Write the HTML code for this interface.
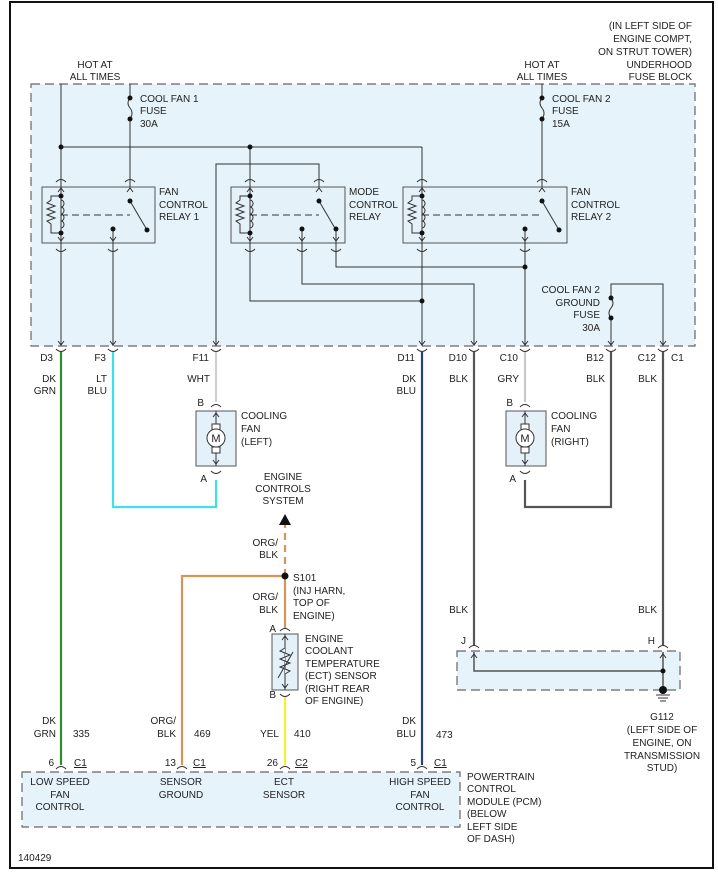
<!DOCTYPE html>
<html><head><meta charset="utf-8"><style>
html,body{margin:0;padding:0;background:#fff;}
svg{display:block;}
text{font-family:"Liberation Sans",sans-serif;font-size:10px;fill:#222;}
</style></head><body>
<svg width="718" height="877" viewBox="0 0 718 877" xmlns="http://www.w3.org/2000/svg">
<defs>
<g id="coil">
 <line x1="0" y1="180" x2="0" y2="243" stroke="#333" stroke-width="1"/>
 <path d="M0,200 a3,3.5 0 0 1 0,7 a3,3.5 0 0 1 0,7 a3,3.5 0 0 1 0,7 a3,3.5 0 0 1 0,7" fill="none" stroke="#333"/>
 <path d="M0,196 H-10 V200 l-4,3 l8,3 l-8,3 l8,3 l-8,3 l8,3 l-8,3 l4,3 V233 H0" fill="none" stroke="#333"/>
 <circle cx="0" cy="196" r="2.5" fill="#111"/><circle cx="0" cy="233" r="2.5" fill="#111"/>
 <path d="M-3,192 L0,188 L3,192 M-3,237 L0,241 L3,237" fill="none" stroke="#333"/>
 <path d="M-5,182 q5,-5 10,0 M-5,249 q5,5 10,0" fill="none" stroke="#333"/>
</g>
<g id="arcT"><path d="M-5,0 q5,-5 10,0" fill="none" stroke="#333"/></g>
<g id="arcB"><path d="M-5,0 q5,5 10,0" fill="none" stroke="#333"/></g>
<g id="dn"><path d="M-3,-4 L0,0 L3,-4" fill="none" stroke="#333"/></g>
<g id="up"><path d="M-3,4 L0,0 L3,4" fill="none" stroke="#333"/></g>
</defs>

<rect x="10" y="2" width="703" height="866" fill="none" stroke="#111" stroke-width="2"/>

<rect x="31" y="84" width="664" height="262" fill="#e6f3fb" stroke="#666" stroke-width="1.2" stroke-dasharray="9,5"/>
<rect x="42" y="187" width="113" height="56" fill="#e4f1f9" stroke="#555"/>
<rect x="231" y="187" width="114" height="56" fill="#e4f1f9" stroke="#555"/>
<rect x="403" y="187" width="164" height="56" fill="#e4f1f9" stroke="#555"/>

<g stroke="#333" stroke-width="1" fill="none">
 <line x1="61" y1="84" x2="61" y2="180"/>
 <line x1="61" y1="147" x2="422" y2="147"/>
 <line x1="422" y1="147" x2="422" y2="180"/>
 <line x1="250" y1="147" x2="250" y2="180"/>
 <line x1="130" y1="84" x2="130" y2="98"/>
 <path d="M130,98 q-4,5 0,10 q4,5 0,11"/>
 <line x1="130" y1="119" x2="130" y2="187"/>
 <line x1="542" y1="84" x2="542" y2="98"/>
 <path d="M542,98 q-4,5 0,10 q4,5 0,11"/>
 <line x1="542" y1="119" x2="542" y2="187"/>
 <polyline points="216,346 216,164 319,164 319,187"/>
 <line x1="61" y1="215" x2="130" y2="215" stroke-dasharray="7,4"/>
 <line x1="130" y1="201" x2="147" y2="230"/>
 <line x1="113" y1="229" x2="113" y2="346"/>
 <line x1="250" y1="215" x2="319" y2="215" stroke-dasharray="7,4"/>
 <line x1="319" y1="201" x2="336" y2="230"/>
 <polyline points="302,229 302,284 474,284 474,346"/>
 <polyline points="336,229 336,267 525,267"/>
 <polyline points="250,243 250,301 422,301"/>
 <line x1="422" y1="215" x2="542" y2="215" stroke-dasharray="7,4"/>
 <line x1="542" y1="201" x2="559" y2="230"/>
 <line x1="525" y1="229" x2="525" y2="346"/>
 <line x1="422" y1="243" x2="422" y2="346"/>
 <line x1="61" y1="243" x2="61" y2="346"/>
 <polyline points="611,346 611,318"/>
 <path d="M611,298 q4,5 0,10 q-4,5 0,10"/>
 <polyline points="611,298 611,284 663,284 663,346"/>
</g>
<use href="#coil" x="61"/><use href="#coil" x="250"/><use href="#coil" x="422"/>
<g fill="#111">
 <circle cx="61" cy="147" r="2.5"/><circle cx="250" cy="147" r="2.5"/>
 <circle cx="130" cy="98" r="2.5"/><circle cx="130" cy="119" r="2.5"/>
 <circle cx="542" cy="98" r="2.5"/><circle cx="542" cy="119" r="2.5"/>
 <circle cx="611" cy="298" r="2.5"/><circle cx="611" cy="318" r="2.5"/>
 <circle cx="130" cy="201" r="2.5"/><circle cx="147" cy="230" r="2.5"/><circle cx="113" cy="229" r="2.5"/>
 <circle cx="319" cy="201" r="2.5"/><circle cx="336" cy="229" r="2.5"/><circle cx="302" cy="229" r="2.5"/>
 <circle cx="542" cy="201" r="2.5"/><circle cx="559" cy="230" r="2.5"/><circle cx="525" cy="229" r="2.5"/>
 <circle cx="422" cy="301" r="2.5"/><circle cx="525" cy="267" r="2.5"/>
</g>
<use href="#arcT" x="130" y="182"/><use href="#up" x="130" y="188"/>
<use href="#arcT" x="319" y="182"/><use href="#up" x="319" y="188"/>
<use href="#arcT" x="542" y="182"/><use href="#up" x="542" y="188"/>
<use href="#dn" x="113" y="241"/><use href="#arcB" x="113" y="249"/>
<use href="#dn" x="302" y="241"/><use href="#arcB" x="302" y="249"/>
<use href="#dn" x="336" y="241"/><use href="#arcB" x="336" y="249"/>
<use href="#dn" x="525" y="241"/><use href="#arcB" x="525" y="249"/>
<g>
 <use href="#dn" x="61" y="345"/><use href="#dn" x="113" y="345"/><use href="#dn" x="216" y="345"/>
 <use href="#dn" x="422" y="345"/><use href="#dn" x="474" y="345"/><use href="#dn" x="525" y="345"/>
 <use href="#dn" x="611" y="345"/><use href="#dn" x="663" y="345"/>
 <use href="#arcB" x="61" y="349"/><use href="#arcB" x="113" y="349"/><use href="#arcB" x="216" y="349"/>
 <use href="#arcB" x="422" y="349"/><use href="#arcB" x="474" y="349"/><use href="#arcB" x="525" y="349"/>
 <use href="#arcB" x="611" y="349"/><use href="#arcB" x="663" y="349"/>
</g>

<g fill="none" stroke-width="2.2">
 <line x1="61" y1="352" x2="61" y2="765" stroke="#2e8b2e"/>
 <polyline points="113,352 113,507 216,507 216,480" stroke="#3ee0ea"/>
 <line x1="216" y1="352" x2="216" y2="402" stroke="#cfcfcf"/>
 <line x1="422" y1="352" x2="422" y2="765" stroke="#27407f"/>
 <line x1="474" y1="352" x2="474" y2="645" stroke="#555"/>
 <line x1="525" y1="352" x2="525" y2="402" stroke="#c8c8c8"/>
 <polyline points="525,480 525,507 611,507 611,352" stroke="#555"/>
 <line x1="663" y1="352" x2="663" y2="645" stroke="#555"/>
 <polyline points="182,765 182,576 285,576 285,628" stroke="#d49555"/>
 <line x1="285" y1="576" x2="285" y2="525" stroke="#d49555" stroke-dasharray="7,5"/>
 <line x1="285" y1="697" x2="285" y2="765" stroke="#f2ee30"/>
</g>
<circle cx="285" cy="576" r="3.5" fill="#111"/>
<path d="M279,525 L285,514 L291,525 Z" fill="#111"/>

<g>
 <rect x="196" y="411" width="40" height="55" fill="#e4f1f9" stroke="#555"/>
 <line x1="216" y1="411" x2="216" y2="466" stroke="#333"/>
 <rect x="212" y="424" width="8" height="6" fill="#fff" stroke="#333"/>
 <rect x="212" y="447" width="8" height="6" fill="#fff" stroke="#333"/>
 <circle cx="216" cy="438" r="9" fill="#fff" stroke="#333"/>
 <text x="216" y="442" text-anchor="middle" style="font-size:11px">M</text>
 <use href="#up" x="216" y="413"/><use href="#dn" x="216" y="464"/>
 <use href="#arcT" x="216" y="407"/><use href="#arcB" x="216" y="471"/>
 <rect x="506" y="411" width="40" height="55" fill="#e4f1f9" stroke="#555"/>
 <line x1="525" y1="411" x2="525" y2="466" stroke="#333"/>
 <rect x="521" y="424" width="8" height="6" fill="#fff" stroke="#333"/>
 <rect x="521" y="447" width="8" height="6" fill="#fff" stroke="#333"/>
 <circle cx="525" cy="438" r="9" fill="#fff" stroke="#333"/>
 <text x="525" y="442" text-anchor="middle" style="font-size:11px">M</text>
 <use href="#up" x="525" y="413"/><use href="#dn" x="525" y="464"/>
 <use href="#arcT" x="525" y="407"/><use href="#arcB" x="525" y="471"/>
</g>
<rect x="272" y="634" width="26" height="56" fill="#e4f1f9" stroke="#555"/>
<line x1="285" y1="634" x2="285" y2="690" stroke="#333"/>
<path d="M285,648 l-5,3 l10,4 l-10,4 l10,4 l-10,4 l10,4 l-5,3" fill="#e4f1f9" stroke="#333"/>
<line x1="278" y1="678" x2="293" y2="652" stroke="#333"/>
<use href="#up" x="285" y="636"/><use href="#dn" x="285" y="688"/>
<use href="#arcT" x="285" y="631"/><use href="#arcB" x="285" y="694"/>

<rect x="457" y="651" width="223" height="39" fill="#e6f3fb" stroke="#666" stroke-width="1.2" stroke-dasharray="9,5"/>
<g stroke="#555" stroke-width="1.5" fill="none">
 <polyline points="474,652 474,671 663,671"/>
 <line x1="663" y1="652" x2="663" y2="692"/>
</g>
<use href="#arcT" x="474" y="648"/><use href="#up" x="474" y="654"/>
<use href="#arcT" x="663" y="648"/><use href="#up" x="663" y="654"/>
<circle cx="663" cy="671" r="2.5" fill="#111"/>
<circle cx="663" cy="690" r="4" fill="#111"/>
<g stroke="#333"><line x1="656" y1="695" x2="670" y2="695"/><line x1="658" y1="698" x2="668" y2="698"/><line x1="660" y1="701" x2="666" y2="701"/></g>

<rect x="22" y="772" width="438" height="55" fill="#e6f3fb" stroke="#666" stroke-width="1.2" stroke-dasharray="9,5"/>
<use href="#arcT" x="61" y="769"/><use href="#arcT" x="182" y="769"/><use href="#arcT" x="285" y="769"/><use href="#arcT" x="422" y="769"/>

<g>
<text x="95" y="68" text-anchor="middle">HOT AT</text>
<text x="95" y="80" text-anchor="middle">ALL TIMES</text>
<text x="542" y="68" text-anchor="middle">HOT AT</text>
<text x="542" y="80" text-anchor="middle">ALL TIMES</text>
<text x="692" y="29" text-anchor="end">(IN LEFT SIDE OF</text>
<text x="692" y="42" text-anchor="end">ENGINE COMPT,</text>
<text x="692" y="55" text-anchor="end">ON STRUT TOWER)</text>
<text x="692" y="68" text-anchor="end">UNDERHOOD</text>
<text x="692" y="80" text-anchor="end">FUSE BLOCK</text>
<text x="140" y="102">COOL FAN 1</text><text x="140" y="114">FUSE</text><text x="140" y="127">30A</text>
<text x="552" y="102">COOL FAN 2</text><text x="552" y="114">FUSE</text><text x="552" y="127">15A</text>
<text x="159" y="195">FAN</text><text x="159" y="208">CONTROL</text><text x="159" y="220">RELAY 1</text>
<text x="349" y="195">MODE</text><text x="349" y="208">CONTROL</text><text x="349" y="220">RELAY</text>
<text x="571" y="195">FAN</text><text x="571" y="208">CONTROL</text><text x="571" y="220">RELAY 2</text>
<text x="600" y="293" text-anchor="end">COOL FAN 2</text>
<text x="600" y="306" text-anchor="end">GROUND</text>
<text x="600" y="318" text-anchor="end">FUSE</text>
<text x="600" y="331" text-anchor="end">30A</text>

<text x="53" y="361" text-anchor="end">D3</text>
<text x="106" y="361" text-anchor="end">F3</text>
<text x="209" y="361" text-anchor="end">F11</text>
<text x="415" y="361" text-anchor="end">D11</text>
<text x="467" y="361" text-anchor="end">D10</text>
<text x="518" y="361" text-anchor="end">C10</text>
<text x="604" y="361" text-anchor="end">B12</text>
<text x="656" y="361" text-anchor="end">C12</text>
<text x="671" y="361">C1</text>

<text x="56" y="382" text-anchor="end">DK</text><text x="56" y="394" text-anchor="end">GRN</text>
<text x="107" y="382" text-anchor="end">LT</text><text x="107" y="394" text-anchor="end">BLU</text>
<text x="210" y="382" text-anchor="end">WHT</text>
<text x="416" y="382" text-anchor="end">DK</text><text x="416" y="394" text-anchor="end">BLU</text>
<text x="468" y="382" text-anchor="end">BLK</text>
<text x="519" y="382" text-anchor="end">GRY</text>
<text x="605" y="382" text-anchor="end">BLK</text>
<text x="657" y="382" text-anchor="end">BLK</text>

<text x="204" y="406" text-anchor="end">B</text>
<text x="207" y="482" text-anchor="end">A</text>
<text x="241" y="419">COOLING</text><text x="241" y="432">FAN</text><text x="241" y="445">(LEFT)</text>
<text x="513" y="406" text-anchor="end">B</text>
<text x="516" y="482" text-anchor="end">A</text>
<text x="551" y="419">COOLING</text><text x="551" y="432">FAN</text><text x="551" y="445">(RIGHT)</text>

<text x="283" y="480" text-anchor="middle">ENGINE</text>
<text x="283" y="492" text-anchor="middle">CONTROLS</text>
<text x="283" y="504" text-anchor="middle">SYSTEM</text>
<text x="278" y="546" text-anchor="end">ORG/</text><text x="278" y="558" text-anchor="end">BLK</text>
<text x="293" y="581">S101</text>
<text x="293" y="594">(INJ HARN,</text>
<text x="293" y="606">TOP OF</text>
<text x="293" y="619">ENGINE)</text>
<text x="278" y="600" text-anchor="end">ORG/</text><text x="278" y="613" text-anchor="end">BLK</text>
<text x="276" y="632" text-anchor="end">A</text>
<text x="276" y="698" text-anchor="end">B</text>
<text x="305" y="642">ENGINE</text>
<text x="305" y="654">COOLANT</text>
<text x="305" y="667">TEMPERATURE</text>
<text x="305" y="679">(ECT) SENSOR</text>
<text x="305" y="692">(RIGHT REAR</text>
<text x="305" y="704">OF ENGINE)</text>

<text x="468" y="613" text-anchor="end">BLK</text>
<text x="657" y="613" text-anchor="end">BLK</text>
<text x="466" y="644" text-anchor="end">J</text>
<text x="655" y="644" text-anchor="end">H</text>

<text x="662" y="720" text-anchor="middle">G112</text>
<text x="662" y="733" text-anchor="middle">(LEFT SIDE OF</text>
<text x="662" y="746" text-anchor="middle">ENGINE, ON</text>
<text x="662" y="759" text-anchor="middle">TRANSMISSION</text>
<text x="662" y="771" text-anchor="middle">STUD)</text>

<text x="56" y="724" text-anchor="end">DK</text><text x="56" y="737" text-anchor="end">GRN</text><text x="73" y="737">335</text>
<text x="176" y="724" text-anchor="end">ORG/</text><text x="176" y="737" text-anchor="end">BLK</text><text x="194" y="737">469</text>
<text x="279" y="737" text-anchor="end">YEL</text><text x="294" y="737">410</text>
<text x="416" y="724" text-anchor="end">DK</text><text x="416" y="737" text-anchor="end">BLU</text><text x="436" y="738">473</text>

<text x="54" y="766" text-anchor="end">6</text><text x="74" y="766" text-decoration="underline">C1</text>
<text x="176" y="766" text-anchor="end">13</text><text x="193" y="766" text-decoration="underline">C1</text>
<text x="278" y="766" text-anchor="end">26</text><text x="295" y="766" text-decoration="underline">C2</text>
<text x="416" y="766" text-anchor="end">5</text><text x="434" y="766" text-decoration="underline">C1</text>

<text x="60" y="785" text-anchor="middle">LOW SPEED</text><text x="60" y="798" text-anchor="middle">FAN</text><text x="60" y="810" text-anchor="middle">CONTROL</text>
<text x="181" y="785" text-anchor="middle">SENSOR</text><text x="181" y="798" text-anchor="middle">GROUND</text>
<text x="284" y="785" text-anchor="middle">ECT</text><text x="284" y="798" text-anchor="middle">SENSOR</text>
<text x="420" y="785" text-anchor="middle">HIGH SPEED</text><text x="420" y="798" text-anchor="middle">FAN</text><text x="420" y="810" text-anchor="middle">CONTROL</text>
<text x="467" y="780">POWERTRAIN</text>
<text x="467" y="792">CONTROL</text>
<text x="467" y="805">MODULE (PCM)</text>
<text x="467" y="817">(BELOW</text>
<text x="467" y="830">LEFT SIDE</text>
<text x="467" y="842">OF DASH)</text>
<text x="18" y="861">140429</text>
</g>
</svg>
</body></html>
